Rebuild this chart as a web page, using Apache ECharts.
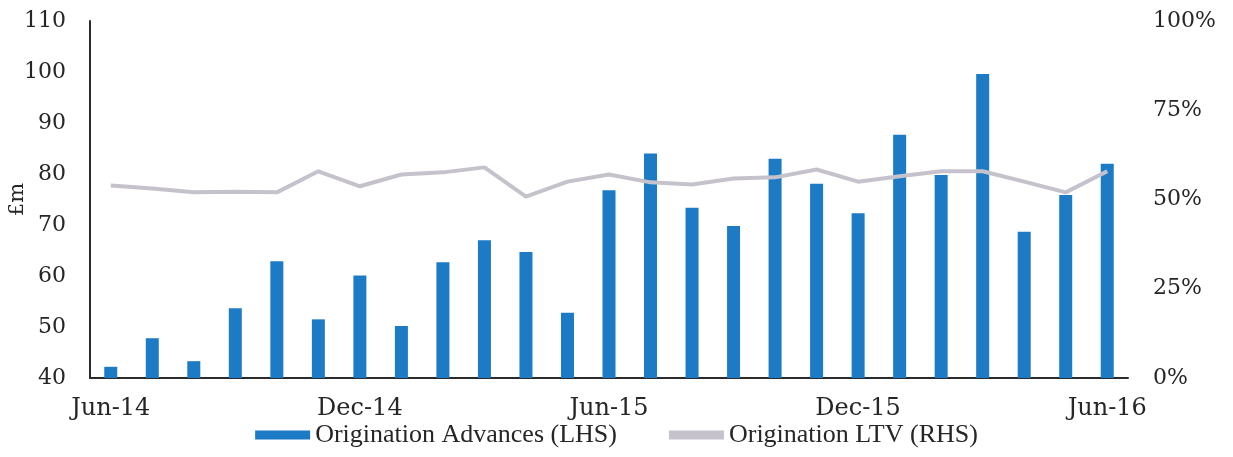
<!DOCTYPE html>
<html>
<head>
<meta charset="utf-8">
<script src="https://cdn.jsdelivr.net/npm/echarts@6/dist/echarts.min.js"></script>
<style>
  html, body { margin: 0; padding: 0; background: #fff; }
  #chart { width: 1233px; height: 457px; }
</style>
</head>
<body>
<div id="chart"></div>
<script>
const months = [
  'Jun-14', 'Jul-14', 'Aug-14', 'Sep-14', 'Oct-14', 'Nov-14',
  'Dec-14', 'Jan-15', 'Feb-15', 'Mar-15', 'Apr-15', 'May-15',
  'Jun-15', 'Jul-15', 'Aug-15', 'Sep-15', 'Oct-15', 'Nov-15',
  'Dec-15', 'Jan-16', 'Feb-16', 'Mar-16', 'Apr-16', 'May-16',
  'Jun-16'
]
// £m
const advances = [
  42.2, 47.8, 43.3, 53.7, 62.9, 51.5, 60.1, 50.2, 62.7, 67.0, 64.7, 52.8,
  76.8, 84.0, 73.4, 69.8, 83.0, 78.1, 72.3, 87.7, 79.8, 99.6, 68.7, 75.9,
  82.0
]
// %
const ltv = [
  53.9, 53.1, 52.0, 52.2, 52.0, 57.9, 53.7, 57.0, 57.6, 59.0, 50.8, 55.0,
  57.0, 54.8, 54.2, 55.9, 56.2, 58.4, 55.0, 56.5, 57.9, 57.9, 55.0, 52.0,
  57.9
]

const textColor = '#262626'
const serif = '"DejaVu Serif", serif'

const chart = echarts.init(document.getElementById('chart'))

chart.setOption({
  animation: false,
  grid: { left: 90, right: 105, top: 21, bottom: 79, outerBoundsMode: 'none', containLabel: false },
  legend: {
    bottom: 4,
    left: 'center',
    itemWidth: 55,
    itemHeight: 9,
    itemGap: 52,
    textStyle: { fontFamily: '"Liberation Serif", serif', fontSize: 26, color: textColor },
    data: [
      { name: 'Origination Advances (LHS)', icon: 'rect' },
      { name: 'Origination LTV (RHS)', icon: 'rect', itemStyle: { color: '#c6c2cc' } }
    ]
  },
  xAxis: {
    type: 'category',
    data: months,
    boundaryGap: true,
    axisLine: { lineStyle: { color: '#2b2b2b', width: 2 } },
    axisTick: { interval: 5, length: 6, lineStyle: { color: '#2b2b2b', width: 2 } },
    axisLabel: { interval: 5, margin: 19, fontFamily: serif, fontSize: 24, color: textColor }
  },
  yAxis: [
    {
      type: 'value',
      min: 40,
      max: 110,
      interval: 10,
      name: '£m',
      nameLocation: 'middle',
      nameGap: 62,
      nameRotate: 90,
      nameMoveOverlap: false,
      nameTextStyle: { fontFamily: serif, fontSize: 21, color: textColor },
      axisLine: { show: true, lineStyle: { color: '#2b2b2b', width: 2 } },
      axisTick: { show: false },
      splitLine: { show: false },
      axisLabel: { margin: 24, fontFamily: serif, fontSize: 22, color: textColor }
    },
    {
      type: 'value',
      min: 0,
      max: 100,
      interval: 25,
      axisLine: { show: false },
      axisTick: { show: false },
      splitLine: { show: false },
      axisLabel: {
        margin: 25,
        fontFamily: serif,
        fontSize: 22,
        color: textColor,
        formatter: '{value}%'
      }
    }
  ],
  series: [
    {
      name: 'Origination Advances (LHS)',
      type: 'bar',
      yAxisIndex: 0,
      barWidth: 13,
      itemStyle: { color: '#1c7bc4' },
      data: advances
    },
    {
      name: 'Origination LTV (RHS)',
      type: 'line',
      yAxisIndex: 1,
      symbol: 'none',
      z: 5,
      lineStyle: { color: '#c6c2cc', width: 4 },
      itemStyle: { color: '#c6c2cc' },
      data: ltv
    }
  ]
})
</script>
</body>
</html>
